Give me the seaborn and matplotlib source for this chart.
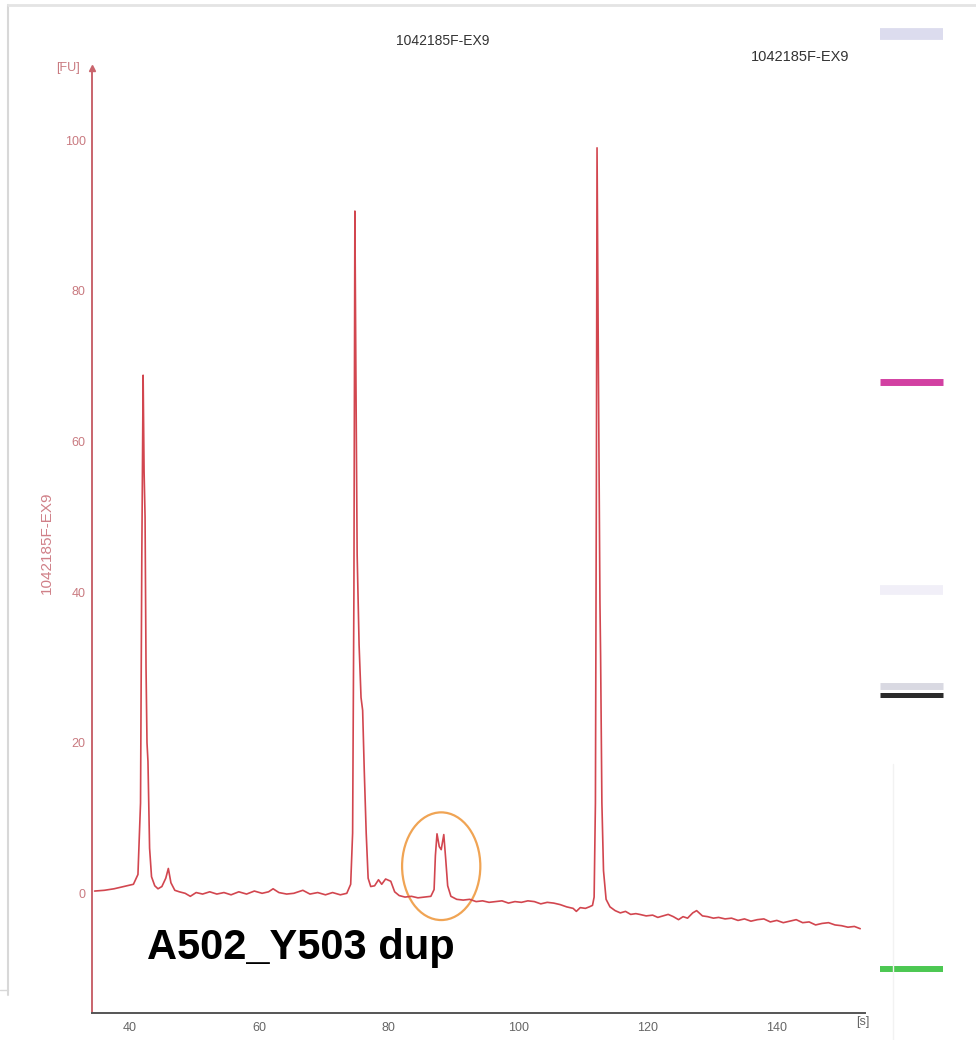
import numpy as np
import pandas as pd
import matplotlib
matplotlib.use('Agg')
import matplotlib.pyplot as plt
from matplotlib.patches import Ellipse
from matplotlib.lines import Line2D
import seaborn as sns

# trace: time [s] and fluorescence [FU]
time_s = [34.5, 36.0, 37.5, 39.0, 40.5, 41.2, 41.6, 41.8, 42.0, 42.15, 42.3, 42.45,
          42.6, 42.75, 43.0, 43.3, 43.8, 44.3, 44.9, 45.5, 45.9, 46.3, 46.9, 47.6,
          48.5, 49.3, 50.2, 51.2, 52.3, 53.4, 54.5, 55.6, 56.8, 58.0, 59.2, 60.4,
          61.4, 62.1, 63.0, 64.2, 65.3, 66.7, 67.8, 69.0, 70.2, 71.3, 72.5, 73.5,
          74.1, 74.4, 74.6, 74.75, 74.9, 75.1, 75.4, 75.7, 75.95, 76.2, 76.5, 76.8,
          77.2, 77.8, 78.4, 78.9, 79.5, 80.3, 80.9, 81.6, 82.5, 83.5, 84.5, 85.5,
          86.5, 87.0, 87.2, 87.45, 87.8, 88.1, 88.5, 88.8, 89.1, 89.6, 90.5, 91.5,
          92.5, 93.5, 94.5, 95.5, 96.5, 97.5, 98.5, 99.5, 100.5, 101.5, 102.5, 103.5,
          104.5, 105.5, 106.5, 107.5, 108.5, 109.0, 109.6, 110.4, 111.0, 111.5,
          111.75, 111.95, 112.1, 112.2, 112.3, 112.4, 112.5, 112.65, 112.75, 112.95,
          113.2, 113.6, 114.2, 115.0, 115.8, 116.6, 117.4, 118.2, 118.8, 119.8,
          120.8, 121.6, 122.4, 123.2, 124.0, 124.8, 125.5, 126.2, 127.0, 127.6,
          128.5, 129.3, 130.2, 131.0, 132.0, 133.0, 134.0, 135.0, 136.0, 137.0,
          138.0, 139.0, 140.0, 141.0, 142.0, 143.0, 144.0, 145.0, 146.0, 147.0,
          148.0, 149.0, 150.0, 151.0, 152.0, 152.9]
fu = [0.3, 0.4, 0.6, 0.9, 1.2, 2.5, 12.0, 45.0, 68.8, 56.0, 50.0, 30.0,
      20.0, 17.5, 6.0, 2.2, 1.0, 0.6, 0.9, 2.0, 3.3, 1.4, 0.4, 0.2,
      0.0, -0.4, 0.1, -0.1, 0.2, -0.1, 0.1, -0.2, 0.2, -0.1, 0.3, 0.0,
      0.2, 0.6, 0.1, -0.1, 0.0, 0.4, -0.1, 0.1, -0.2, 0.1, -0.2, 0.0,
      1.2, 8.0, 40.0, 90.6, 70.0, 45.0, 33.0, 26.0, 24.3, 16.3, 8.0, 2.0,
      0.9, 1.0, 1.8, 1.2, 1.9, 1.6, 0.2, -0.3, -0.5, -0.4, -0.6, -0.5,
      -0.4, 0.5, 5.0, 7.9, 6.2, 5.8, 7.8, 4.5, 1.0, -0.4, -0.8, -0.9,
      -0.8, -1.1, -1.0, -1.2, -1.1, -1.0, -1.3, -1.1, -1.2, -1.0, -1.1, -1.4,
      -1.2, -1.3, -1.5, -1.8, -2.0, -2.4, -1.9, -2.0, -1.8, -1.6,
      -0.5, 12.0, 55.0, 99.0, 86.0, 71.0, 57.5, 38.6, 31.6, 12.0,
      3.0, -0.8, -1.8, -2.3, -2.6, -2.4, -2.8, -2.7, -2.8, -3.0,
      -2.9, -3.2, -3.0, -2.8, -3.1, -3.5, -3.1, -3.3, -2.6, -2.3,
      -3.0, -3.1, -3.3, -3.2, -3.4, -3.3, -3.6, -3.4, -3.7, -3.5,
      -3.4, -3.8, -3.6, -3.9, -3.7, -3.5, -3.9, -3.8, -4.2, -4.0,
      -3.9, -4.2, -4.3, -4.5, -4.4, -4.7]

sample = '1042185F-EX9'
y_ticks = [0, 20, 40, 60, 80, 100]
x_ticks = [40, 60, 80, 100, 120, 140]

# gel lane bands: position (0 = top, 100 = bottom) and colour
band_pos = [1.6, 35.6, 56.0, 65.4, 66.2, 93.1]
band_color = ['#dcdcee', '#d240a2', '#f1eff8', '#d9d9e2', '#2b2b2b', '#4cc852']
band_width = [8.5, 5.0, 7.0, 5.0, 3.6, 4.3]

df = pd.DataFrame({'time': time_s, 'fu': fu})

sns.set_style('white')
plt.rcParams['font.family'] = ['Liberation Sans', 'DejaVu Sans']

red = '#d2464f'
axis_red = '#c9646c'
fig = plt.figure(figsize=(9.76, 10.58), dpi=100)
ax = fig.add_axes([0.0943, 0.0425, 0.7917, 0.8932])

sns.lineplot(data=df, x='time', y='fu', ax=ax, color=red, lw=1.2,
             sort=False, estimator=None)

ax.set_xlim(34.1, 153.6)
ax.set_ylim(-15.9, 109.6)
ax.set_xticks(x_ticks)
ax.set_yticks(y_ticks)
ax.set_xlabel('')
ax.set_ylabel('')
for s in ['top', 'right']:
    ax.spines[s].set_visible(False)
ax.spines['left'].set_color(axis_red)
ax.spines['left'].set_linewidth(1.4)
ax.spines['bottom'].set_color('#555555')
ax.spines['bottom'].set_linewidth(1.4)
ax.tick_params(axis='y', direction='inout', length=7, width=1, colors=axis_red,
               labelsize=9, labelcolor='#c97a80', pad=1)
ax.tick_params(axis='x', direction='inout', length=7, width=1, colors='#555555',
               labelsize=9, labelcolor='#666666', pad=3)
ax.patch.set_alpha(0)

# arrow head on the y axis
ax.plot([0], [1], marker='^', ms=5, color=axis_red, transform=ax.transAxes,
        clip_on=False)

fig.text(0.07, 0.936, '[FU]', color='#c97a80', fontsize=9, ha='center', va='center')
fig.text(0.884, 0.034, '[s]', color='#666666', fontsize=9, ha='center', va='center')
fig.text(0.048, 0.487, sample, rotation=90, color='#d08088', fontsize=11,
         ha='center', va='center')
fig.text(0.454, 0.961, sample, color='#333333', fontsize=10, ha='center', va='center')
fig.text(0.82, 0.946, sample, color='#333333', fontsize=10.5, ha='center', va='center')

# orange circle marking the duplicated peak
ax.add_patch(Ellipse((88.1, 3.6), 12.1, 14.3, fill=False, ec='#f0a454', lw=1.6))
ax.text(42.6, -7.2, 'A502_Y503 dup', fontsize=30, fontweight='bold',
        color='black', ha='left', va='center')

# gel lane
gel = fig.add_axes([870 / 976, 18 / 1058, 85 / 976, 1022 / 1058])
gel.set_xlim(0, 1)
gel.set_ylim(100, 0)
gel.axis('off')
gel.hlines(band_pos, 0.12, 0.86, colors=band_color, linewidth=band_width)
gel.plot([0.27, 0.27], [73, 100], color='#f2f2f2', lw=1)

# scanned page edges
fig.add_artist(Line2D([0.008, 0.008], [0.06, 0.995], color='#d8d8d8', lw=1.5))
fig.add_artist(Line2D([0.008, 1.0], [0.995, 0.995], color='#e4e4e4', lw=2))
fig.add_artist(Line2D([0.0, 0.008], [0.064, 0.064], color='#d8d8d8', lw=1))

fig.savefig('out.png', dpi=100)
